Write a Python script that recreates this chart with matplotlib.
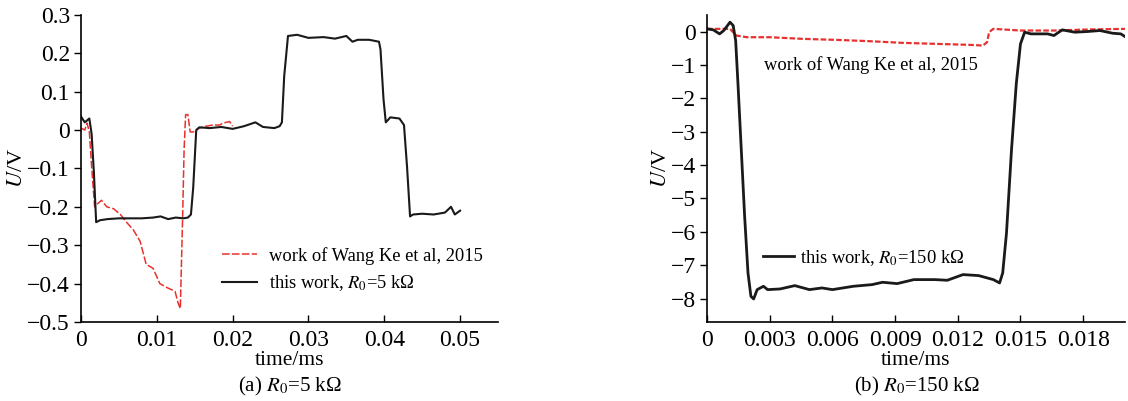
import numpy as np
import matplotlib
matplotlib.use("Agg")
import matplotlib.pyplot as plt

plt.rcParams["font.family"] = ["Liberation Serif", "DejaVu Serif"]
plt.rcParams["mathtext.fontset"] = "stix"
plt.rcParams["font.size"] = 16

# (a) R0 = 5 kOhm
a_this_t = [0.0, 0.0005, 0.0011, 0.0014, 0.0017, 0.0020, 0.0025, 0.0035, 0.0050, 0.0065,
            0.0080, 0.0095, 0.0105, 0.0115, 0.0125, 0.0135, 0.0141, 0.0145, 0.0148, 0.0152,
            0.0156, 0.0170, 0.0185, 0.0200, 0.0215, 0.0230, 0.0240, 0.0255, 0.0262, 0.0265,
            0.0268, 0.0273, 0.0285, 0.0300, 0.0320, 0.0335, 0.0350, 0.0358, 0.0365, 0.0380,
            0.0393, 0.0395, 0.0399, 0.0402, 0.0408, 0.0420, 0.0426, 0.0430, 0.0434, 0.0438,
            0.0450, 0.0465, 0.0480, 0.0488, 0.0493, 0.0500]
a_this_u = [0.035, 0.020, 0.030, -0.010, -0.110, -0.240, -0.235, -0.232, -0.230, -0.230,
            -0.230, -0.228, -0.225, -0.232, -0.228, -0.230, -0.228, -0.220, -0.150, 0.000,
            0.007, 0.005, 0.008, 0.003, 0.010, 0.020, 0.008, 0.005, 0.010, 0.020,
            0.140, 0.245, 0.248, 0.240, 0.242, 0.238, 0.245, 0.230, 0.235, 0.235,
            0.230, 0.210, 0.080, 0.020, 0.033, 0.030, 0.013, -0.095, -0.225, -0.220,
            -0.218, -0.220, -0.215, -0.200, -0.220, -0.210]

a_wang_t = [0.0, 0.0005, 0.0008, 0.0011, 0.0014, 0.0018, 0.0023, 0.0027, 0.0034, 0.0043,
            0.0052, 0.0060, 0.0069, 0.0078, 0.0086, 0.0095, 0.0104, 0.0113, 0.0124, 0.0128,
            0.0131, 0.0134, 0.0136, 0.0138, 0.0141, 0.0144, 0.0148, 0.0156, 0.0165, 0.0174,
            0.0183, 0.0187, 0.0196, 0.0200]
a_wang_u = [0.005, 0.000, 0.018, -0.005, -0.095, -0.200, -0.190, -0.183, -0.200, -0.205,
            -0.220, -0.240, -0.260, -0.290, -0.350, -0.360, -0.400, -0.410, -0.420, -0.450,
            -0.465, -0.230, -0.050, 0.040, 0.040, -0.005, -0.005, 0.005, 0.010, 0.013,
            0.013, 0.018, 0.022, 0.010]

# (b) R0 = 150 kOhm
b_this_t = [0.0, 0.0003, 0.0006, 0.0008, 0.0011, 0.00125, 0.00137, 0.00148, 0.00164, 0.0018,
            0.00196, 0.0021, 0.00223, 0.0024, 0.0027, 0.0029, 0.0035, 0.0042, 0.0049, 0.0055,
            0.0060, 0.0070, 0.0079, 0.0084, 0.0091, 0.0099, 0.0109, 0.0115, 0.01225, 0.0130,
            0.0137, 0.0140, 0.01415, 0.01433, 0.01457, 0.0148, 0.0150, 0.0152, 0.0155, 0.0158,
            0.0163, 0.0166, 0.0170, 0.0176, 0.0182, 0.0188, 0.0194, 0.0198, 0.0200]
b_this_u = [0.08, 0.05, -0.07, 0.03, 0.28, 0.18, -0.27, -1.56, -3.55, -5.54,
            -7.23, -7.93, -8.01, -7.73, -7.63, -7.73, -7.71, -7.61, -7.73, -7.68,
            -7.73, -7.63, -7.58, -7.51, -7.55, -7.43, -7.43, -7.45, -7.28, -7.31,
            -7.43, -7.53, -7.23, -6.04, -3.55, -1.56, -0.37, -0.02, -0.07, -0.07,
            -0.07, -0.12, 0.05, -0.02, 0.00, 0.03, -0.05, -0.07, -0.15]

b_wang_t = [0.0, 0.0011, 0.0014, 0.0019, 0.0030, 0.0046, 0.0062, 0.0078, 0.0094, 0.0110,
            0.0126, 0.0132, 0.0134, 0.0135, 0.0137, 0.0150, 0.0166, 0.0182, 0.0200]
b_wang_u = [0.08, 0.08, -0.12, -0.17, -0.17, -0.22, -0.25, -0.29, -0.34, -0.37,
            -0.40, -0.42, -0.32, -0.02, 0.08, 0.03, 0.03, 0.06, 0.08]

a_xticks = [0, 0.01, 0.02, 0.03, 0.04, 0.05]
a_xlabels = ["0", "0.01", "0.02", "0.03", "0.04", "0.05"]
a_yticks = [0.3, 0.2, 0.1, 0, -0.1, -0.2, -0.3, -0.4, -0.5]
a_ylabels = ["0.3", "0.2", "0.1", "0", "\u22120.1", "\u22120.2", "\u22120.3", "\u22120.4", "\u22120.5"]
b_xticks = [0, 0.003, 0.006, 0.009, 0.012, 0.015, 0.018]
b_xlabels = ["0", "0.003", "0.006", "0.009", "0.012", "0.015", "0.018"]
b_yticks = [0, -1, -2, -3, -4, -5, -6, -7, -8]
b_ylabels = ["0"] + ["\u2212%d" % k for k in range(1, 9)]

red = "#e8312f"
black = "#1a1a1a"

fig = plt.figure(figsize=(11.28, 4.01), dpi=100)
ax1 = fig.add_axes([0.0718, 0.197, 0.3697, 0.766])
ax2 = fig.add_axes([0.6268, 0.197, 0.3705, 0.766])


def style_axes(ax, xticks, xlabels, yticks, ylabels):
    for s in ["top", "right"]:
        ax.spines[s].set_visible(False)
    ax.spines["left"].set_linewidth(1.2)
    ax.spines["bottom"].set_linewidth(1.2)
    ax.set_xticks(xticks)
    ax.set_xticklabels(xlabels)
    ax.set_yticks(yticks)
    ax.set_yticklabels(ylabels)
    ax.tick_params(axis="both", labelsize=17)
    ax.tick_params(axis="x", direction="in", length=5, width=1, pad=6)
    ax.tick_params(axis="y", direction="out", length=5, width=1, pad=3)
    ax.set_xlabel("time/ms", fontsize=15.5, labelpad=0)
    ax.set_ylabel("$U$/V", fontsize=16, labelpad=0)


ax1.plot(a_wang_t, a_wang_u, color=red, lw=1.1, ls=(0, (5, 1.5)),
         label="work of Wang Ke et al, 2015")
ax1.plot(a_this_t, a_this_u, color=black, lw=1.5, label="this work, $R_0$=5 k\u03a9")
ax1.set_xlim(0, 0.055)
ax1.set_ylim(-0.5, 0.3)
style_axes(ax1, a_xticks, a_xlabels, a_yticks, a_ylabels)
ax1.legend(loc="upper left", bbox_to_anchor=(0.197, 0.384), bbox_transform=fig.transFigure,
           frameon=False, handlelength=1.9, handletextpad=0.65, labelspacing=0.45,
           borderpad=0, borderaxespad=0, fontsize=13.3)

ax2.plot(b_wang_t, b_wang_u, color=red, lw=1.6, ls=(0, (2.5, 1)))
ax2.plot(b_this_t, b_this_u, color=black, lw=2.0, label="this work, $R_0$=150 k\u03a9")
ax2.set_xlim(0, 0.02)
ax2.set_ylim(-8.7, 0.5)
style_axes(ax2, b_xticks, b_xlabels, b_yticks, b_ylabels)
ax2.text(0.677, 0.838, "work of Wang Ke et al, 2015", transform=fig.transFigure,
         ha="left", va="center", fontsize=13.3)
ax2.legend(loc="upper left", bbox_to_anchor=(0.676, 0.382), bbox_transform=fig.transFigure,
           frameon=False, handlelength=1.7, handletextpad=0.35,
           borderpad=0, borderaxespad=0, fontsize=13.3)

fig.text(0.257, 0.035, "(a) $R_0$=5 k\u03a9", ha="center", va="center", fontsize=15)
fig.text(0.813, 0.035, "(b) $R_0$=150 k\u03a9", ha="center", va="center", fontsize=15)

fig.savefig("out.png", dpi=100)
